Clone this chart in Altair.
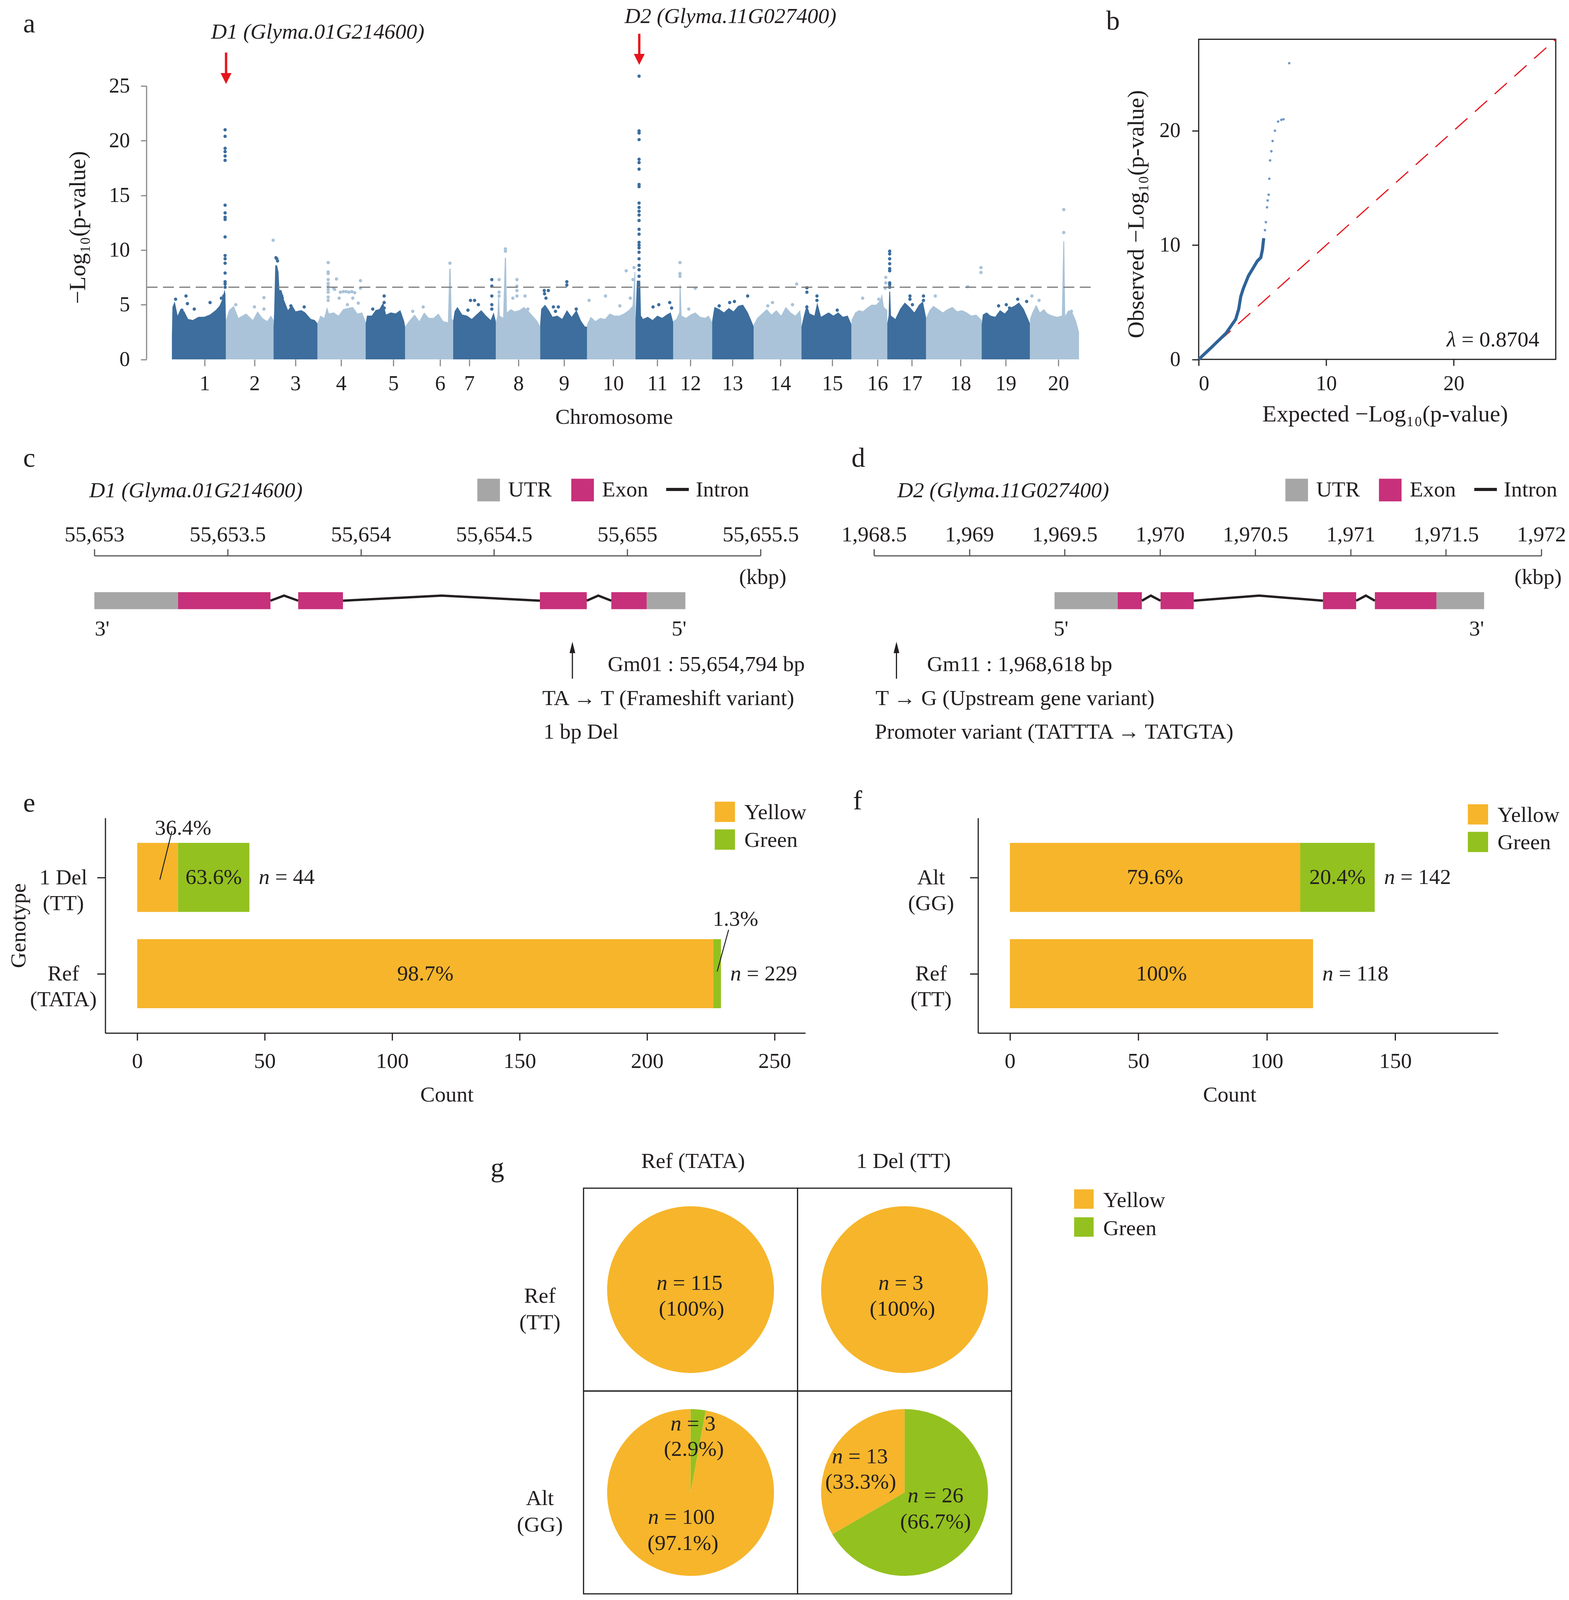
import altair as alt
import pandas as pd

FONT = "Liberation Serif"
INK = "#231f20"
GRAY_AX = "#8a8a8a"
DARK = "#3d6e9d"
LIGHT = "#aac3d8"
YEL = "#f6b52b"
GRN = "#93c11f"
UTRC = "#a6a6a6"
EXONC = "#c7307a"
RED = "#e8141c"
QQDARK = "#2f6399"
QQLIGHT = "#6f9ac8"

# vertical layout factor so the whole figure fits in the visible window height
K = 0.948

# ------------------------------------------------------------------ data: panel a
chrom_labels = [str(i) for i in range(1, 21)]
chrom_ticks = [34.4, 86.8, 129.8, 177.7, 232.6, 281.8, 312.5, 364.1, 412.0, 463.6,
               509.9, 544.7, 588.9, 639.3, 693.8, 741.3, 777.3, 828.5, 876.0, 931.3]
# envelope of the dense SNP band per chromosome: (cumulative Mb, -log10 p)
chrom_env = [
    [(0, 2.1), (0.6, 4.8), (3, 5.3), (6, 4.0), (9, 4.6), (13, 4.4), (17, 3.7), (22, 3.6), (28, 3.9), (34, 3.9), (40, 4.1), (46, 4.5), (50, 4.9), (53, 5.5), (55.3, 6.4), (56.2, 6.0), (56.8, 3.4)],
    [(56.8, 3.6), (60, 4.5), (65, 4.9), (70, 3.8), (78, 4.2), (85, 3.6), (90, 4.4), (95, 3.8), (100, 3.5), (104, 4.0), (106.8, 3.6)],
    [(106.8, 3.0), (107.5, 4.5), (108.6, 8.6), (110.5, 8.6), (112, 8.0), (113, 6.3), (115, 5.9), (118, 5.4), (122, 4.5), (126, 5.0), (130, 4.4), (136, 4.5), (140, 4.3), (146, 3.7), (150, 3.6), (153, 3.3)],
    [(153, 3.3), (156, 4.0), (160, 3.8), (163, 4.8), (165, 4.2), (170, 4.3), (175, 4.0), (180, 4.6), (185, 4.7), (190, 4.8), (195, 4.2), (200, 4.3), (203.6, 3.4)],
    [(203.6, 3.3), (205, 4.0), (210, 4.0), (214, 4.5), (218, 4.6), (222, 5.2), (225, 4.1), (230, 4.3), (235, 4.2), (240, 4.5), (244, 3.5), (245, 3.0)],
    [(245, 3.0), (250, 3.6), (255, 4.1), (260, 3.5), (265, 4.3), (270, 3.8), (275, 3.8), (280, 4.2), (285, 3.5), (290, 3.4), (291.5, 8.3), (292.8, 8.3), (294, 3.7), (295.5, 3.6)],
    [(295.5, 3.5), (297, 4.4), (300, 4.8), (305, 4.1), (310, 4.0), (315, 3.7), (320, 4.1), (325, 4.5), (330, 4.0), (335, 3.6), (338, 4.3), (340.3, 3.5)],
    [(340.3, 3.4), (342, 4.0), (343.3, 6.5), (344.5, 4.0), (348, 3.8), (349.8, 9.3), (351, 9.3), (352, 4.3), (356, 4.6), (360, 4.4), (365, 4.5), (370, 4.8), (375, 4.4), (380, 3.9), (384, 3.5), (386.9, 3.0)],
    [(386.9, 3.2), (388, 4.6), (392, 5.0), (396, 4.5), (400, 3.9), (405, 4.0), (410, 3.7), (415, 4.5), (420, 3.9), (425, 4.5), (430, 3.5), (434, 3.0), (436.2, 3.0)],
    [(436.2, 3.2), (440, 3.9), (445, 3.5), (450, 3.8), (455, 3.7), (460, 4.2), (465, 4.0), (470, 4.0), (475, 4.2), (480, 4.5), (484, 4.9), (486, 8.0), (486.8, 8.0), (487, 3.8)],
    [(487, 3.6), (488.5, 7.2), (492, 7.2), (492.8, 4.0), (495, 3.7), (500, 3.9), (505, 3.6), (510, 4.0), (515, 3.8), (520, 4.1), (524, 4.3), (526.7, 3.4)],
    [(526.7, 3.5), (530, 3.7), (533, 4.3), (533.4, 6.8), (534.4, 6.8), (535.5, 4.0), (540, 3.8), (545, 4.1), (550, 4.3), (555, 3.9), (560, 3.8), (564, 4.0), (567.6, 3.4)],
    [(567.6, 3.5), (570, 4.8), (575, 4.6), (580, 4.3), (585, 4.7), (590, 4.4), (595, 4.9), (600, 5.0), (605, 4.3), (608, 3.7), (611.3, 3.0)],
    [(611.3, 3.2), (615, 3.8), (620, 4.2), (625, 4.6), (630, 4.1), (635, 4.5), (640, 4.0), (645, 4.8), (650, 4.3), (655, 4.0), (660, 4.5), (661.4, 3.6)],
    [(661.4, 3.0), (664, 4.0), (667, 5.0), (670, 4.2), (675, 4.0), (678, 5.2), (682, 3.9), (690, 4.3), (695, 4.0), (700, 4.3), (705, 3.9), (710, 4.0), (714, 3.2)],
    [(714, 3.6), (718, 4.3), (722, 4.5), (726, 4.4), (730, 4.7), (735, 5.0), (740, 5.0), (744, 5.4), (746, 6.0), (748, 4.8), (751.6, 4.5)],
    [(751.6, 3.3), (753, 4.0), (753.6, 6.2), (754.6, 6.2), (755.5, 4.0), (760, 3.7), (765, 4.6), (770, 5.2), (775, 4.8), (780, 4.3), (785, 5.0), (789, 5.3), (792.4, 3.8)],
    [(792.4, 3.8), (796, 4.5), (800, 4.9), (805, 4.6), (810, 4.3), (815, 4.6), (820, 4.8), (825, 4.4), (830, 4.5), (835, 4.3), (840, 4.0), (845, 4.1), (850.7, 3.6)],
    [(850.7, 3.2), (852, 4.1), (856, 4.3), (860, 4.0), (865, 3.9), (870, 4.5), (875, 4.2), (880, 4.7), (885, 4.9), (890, 5.2), (895, 4.6), (898, 4.0), (901.5, 3.3)],
    [(901.5, 3.7), (904, 4.3), (908, 5.0), (912, 4.3), (916, 4.6), (920, 4.2), (925, 4.0), (930, 3.9), (935, 4.0), (936.5, 10.8), (937.5, 10.8), (938.5, 4.0), (942, 4.5), (946, 4.3), (950, 3.5), (953, 2.5)],
]
# individual SNPs standing above the dense band: (cumulative Mb, -log10 p)
chrom_peaks = [
    [(55.9, v) for v in [21.0, 20.4, 19.3, 19.0, 18.6, 18.2, 14.1, 13.4, 13.0, 12.8, 11.2, 9.5, 9.2, 8.8, 7.9, 7.1, 6.9, 6.6]]
    + [(3.9, 5.5), (14.8, 5.8), (16.3, 5.1), (10.5, 4.5), (23.5, 4.6), (40.1, 5.2), (52, 5.6), (54.5, 5.8)],
    [(106.4, 10.9), (96.7, 5.65), (86.7, 4.8), (67.1, 5.0), (96.7, 4.6)],
    [(109.3, 9.3), (110.2, 9.2), (111, 9.0), (113.8, 6.2), (114.5, 6.0), (115.5, 5.8), (116, 5.6), (113.5, 5.5), (117, 5.1), (125, 4.9), (139, 4.8)],
    [(164.2, v) for v in [8.85, 8.0, 7.85, 7.3, 6.95, 6.7, 6.4, 6.15, 5.7, 5.4]]
    + [(172.9, 7.35), (198.1, 7.2), (170, 6.5), (171, 6.4), (177, 6.15), (180, 6.2), (183, 6.2), (186, 6.15), (189, 6.2), (192, 6.1), (175.7, 5.6), (190, 5.6), (195.8, 5.15), (184.4, 5.0), (198.1, 6.5)],
    [(223, 5.8), (223, 5.2), (223, 4.7), (211, 4.6)],
    [(292.1, 8.8), (253, 4.4), (264, 4.8)],
    [(336.1, v) for v in [7.3, 6.7, 5.8, 5.0, 4.6]] + [(313.7, 5.4), (318, 5.4), (322, 5.0), (311, 4.5)],
    [(350.4, 10.1), (350.4, 9.9), (343.8, 7.3), (343.8, 6.15), (343.8, 5.8), (362.5, 7.3), (362.5, 6.7), (362.5, 6.3), (362.5, 5.8), (371, 5.8), (358.2, 5.6), (374, 4.6)],
    [(391.2, 6.3), (391.5, 6.0), (395.5, 6.3), (393, 5.6), (400.8, 4.8), (403, 4.4), (414.9, 7.1), (414.9, 6.8), (424.8, 4.6), (406, 4.8)],
    [(438.3, 5.4), (455.5, 5.8), (477.3, 8.1), (481.6, 5.6), (484.4, 7.3), (485.5, 8.4), (470.6, 4.9)],
    [(490.8, v) for v in [25.9, 20.9, 20.7, 20.1, 18.3, 18.0, 17.4, 16.0, 15.8, 14.3, 13.9, 13.55, 13.2, 12.7, 11.9, 11.45, 10.7, 10.45, 10.2, 9.8, 9.2, 8.6, 8.2, 7.6]]
    + [(505.5, 4.8), (511.5, 5.0), (523, 5.2), (525, 4.7)],
    [(533.8, 8.85), (533.8, 7.85), (533.8, 7.6), (549.8, 6.5), (543, 4.6)],
    [(591, 5.3), (604.9, 5.8), (586, 5.2), (575, 4.9)],
    [(656.4, 6.9), (631, 5.2), (652, 5.0), (626, 4.9)],
    [(667.1, 6.55), (667.1, 6.15), (677.7, 5.8), (677.7, 5.4), (667.1, 4.8), (699, 4.5)],
    [(725.7, 5.6), (742.6, 5.5), (750, 7.5), (750, 7.0), (749.5, 6.5)],
    [(754.1, v) for v in [9.9, 9.65, 9.2, 8.75, 8.3, 8.1, 7.0, 6.85, 6.6]] + [(775.4, 5.8), (775.4, 5.5), (789.6, 5.8), (789.6, 5.4), (778, 5.0)],
    [(802, 5.8), (836.1, 6.65), (850, 8.4), (850, 7.95)],
    [(868.5, 4.9), (876.6, 5.0), (888.6, 5.5), (898, 5.3), (880, 4.7)],
    [(937, 13.7), (937, 11.6), (903.5, 5.8), (911, 5.4), (945, 4.4)],
]
threshold = 6.6
gene_names = ["D1 (Glyma.01G214600)", "D2 (Glyma.11G027400)"]
arrow_pos = [56.9, 491.0]
arrow_top = [28.06, 29.78]
arrow_tip = [25.19, 26.94]

# ------------------------------------------------------------------ data: panel b
qq_line_exp = [0, 1.0, 2.15, 2.9, 3.14, 3.3, 3.5, 3.9, 4.33, 4.6, 4.87, 5.0, 5.1]
qq_line_obs = [0, 1.05, 2.3, 3.5, 4.4, 5.5, 6.2, 7.3, 8.1, 8.6, 8.9, 9.6, 10.6]
qq_dot_exp = [5.2, 5.27, 5.36, 5.41, 5.49, 5.54, 5.6, 5.7, 5.8, 5.98, 6.23, 6.48, 6.65, 7.1]
qq_dot_obs = [11.3, 12.0, 13.3, 13.9, 14.4, 15.8, 17.4, 18.2, 19.1, 20.0, 20.8, 20.95, 21.0, 25.9]
lambda_gc = "0.8704"

# ------------------------------------------------------------------ data: panels c, d (kbp)
c_ticks = [55653, 55653.5, 55654, 55654.5, 55655, 55655.5]
c_utr = [(55653.0, 55653.314), (55655.073, 55655.218)]
c_exon = [(55653.314, 55653.661), (55653.765, 55653.933), (55654.672, 55654.848), (55654.94, 55655.073)]
c_intron = [(55653.661, 55653.712, 55653.765), (55653.933, 55654.303, 55654.672), (55654.848, 55654.891, 55654.94)]
c_variant = 55654.794
d_ticks = [1968.5, 1969, 1969.5, 1970, 1970.5, 1971, 1971.5, 1972]
d_utr = [(1969.447, 1969.778), (1971.45, 1971.70)]
d_exon = [(1969.778, 1969.905), (1970.003, 1970.177), (1970.855, 1971.029), (1971.127, 1971.45)]
d_intron = [(1969.905, 1969.952, 1970.003), (1970.177, 1970.52, 1970.855), (1971.029, 1971.08, 1971.127)]
d_variant = 1968.618

# ------------------------------------------------------------------ data: panels e, f, g
phenos = ["Yellow", "Green"]
e_genos = [["1 Del", "(TT)"], ["Ref", "(TATA)"]]
e_yellow = [16, 226]
e_green = [28, 3]
e_pct_y = ["36.4%", "98.7%"]
e_pct_g = ["63.6%", "1.3%"]
f_genos = [["Alt", "(GG)"], ["Ref", "(TT)"]]
f_yellow = [113, 118]
f_green = [29, 0]
f_pct_y = ["79.6%", "100%"]
f_pct_g = ["20.4%", ""]
g_cols = ["Ref (TATA)", "1 Del (TT)"]
g_rows = ["Ref\n(TT)", "Alt\n(GG)"]
g_yellow = [[115, 3], [100, 13]]
g_green = [[0, 0], [3, 26]]
g_pct_y = [["100%", "100%"], ["97.1%", "33.3%"]]
g_pct_g = [["", ""], ["2.9%", "66.7%"]]

PHENO_COL = {"Yellow": YEL, "Green": GRN}

# ------------------------------------------------------------------ helpers
ONE = pd.DataFrame({"k": [0]})
EM = {" ": 0.25, "=": 0.564, "(": 0.333, ")": 0.333, "%": 0.833, ".": 0.25, "n": 0.5}


def tw(s, size):
    return sum(EM.get(ch, 0.5) for ch in s) * size


def label(text, x, y, size=56, align="center", baseline="middle", italic=False, color=INK, lineHeight=None):
    kw = dict(text=text, align=align, baseline=baseline, fontSize=size,
              fontStyle="italic" if italic else "normal", color=color, font=FONT)
    if lineHeight:
        kw["lineBreak"] = "\n"
        kw["lineHeight"] = lineHeight
    return alt.Chart(ONE).mark_text(**kw).encode(x=alt.value(x), y=alt.value(y * K))


def nlabel_center(rest, cx, y, size=56):
    w = tw("n " + rest, size)
    left = cx - w / 2
    return [label("n", left, y, size, align="left", italic=True),
            label(rest, left + 0.75 * size, y, size, align="left")]


def square(x, y, color, side):
    return alt.Chart(ONE).mark_square(size=side * side, color=color, opacity=1, filled=True).encode(
        x=alt.value(x), y=alt.value(y * K))


def hline(x1, x2, y, color=INK, width=8):
    return alt.Chart(ONE).mark_rule(color=color, strokeWidth=width).encode(
        x=alt.value(x1), x2=alt.value(x2), y=alt.value(y * K))


def spacer(w, h):
    return alt.Chart(ONE).mark_point(opacity=0).encode(
        x=alt.X("k:Q", axis=None), y=alt.Y("k:Q", axis=None)).properties(width=w, height=h)


def row_frame(w, h, top, bottom):
    # invisible frame that fixes the vertical extent of a row of panels
    return alt.Chart(ONE).mark_rect(opacity=0).encode(
        x=alt.value(0), x2=alt.value(w), y=alt.value(-top), y2=alt.value(h + bottom)).properties(width=w, height=h)


# ------------------------------------------------------------------ panel a
A_W, A_H = 2434, 866.6 * K
sx_a = alt.Scale(domain=[-26.6, 970.2], nice=False, zero=False)
sy_a = alt.Scale(domain=[0, 29.28], nice=False, zero=False)

env_rows, pk_rows = [], []
for i, env in enumerate(chrom_env):
    col = DARK if i % 2 == 0 else LIGHT
    for p, t in env:
        env_rows.append({"chr": i + 1, "col": col, "pos": p, "top": t})
    for p, v in chrom_peaks[i]:
        pk_rows.append({"chr": i + 1, "col": col, "pos": p, "val": v})
env_df = pd.DataFrame(env_rows)
pk_df = pd.DataFrame(pk_rows)

ax_a_x = alt.Axis(values=chrom_ticks, labelExpr=f"{chrom_labels}[indexof({chrom_ticks}, datum.value)]",
                  domain=False, grid=False, tickSize=18 * K, tickWidth=3, tickColor=GRAY_AX, labelFontSize=54,
                  labelPadding=20 * K, labelOverlap=False, labelFlush=False, title="Chromosome", titleFontSize=56,
                  titleX=1199, titleY=156 * K, titleBaseline="middle")
ax_a_y = alt.Axis(values=[0, 5, 10, 15, 20, 25], domain=False, grid=False, tickSize=15, tickWidth=3,
                  tickColor=GRAY_AX, labelFontSize=54, labelPadding=28, title="−Log₁₀(p-value)",
                  titleFontSize=60, titleX=-176, titleY=509 * K, titleAngle=270, titleBaseline="middle")


def XA(f):
    return alt.X(f, scale=sx_a, axis=ax_a_x)


def YA(f, **kw):
    return alt.Y(f, scale=sy_a, axis=ax_a_y, **kw)


a_area = alt.Chart(env_df).mark_area(interpolate="linear").encode(
    x=XA("pos:Q"), y=YA("top:Q", stack=None), color=alt.Color("col:N", scale=None), detail="chr:N")
a_pts = alt.Chart(pk_df).mark_circle(size=72, opacity=1).encode(
    x=XA("pos:Q"), y=YA("val:Q"), color=alt.Color("col:N", scale=None))
a_thr = alt.Chart(pd.DataFrame({"t": [threshold]})).mark_rule(
    color="#7a7a7a", strokeWidth=3, strokeDash=[28, 14]).encode(
    y=YA("t:Q"), x=alt.value(0), x2=alt.value(A_W))
a_yline = alt.Chart(pd.DataFrame({"y0": [0], "y1": [25]})).mark_rule(color=GRAY_AX, strokeWidth=3).encode(
    x=alt.value(0), y=YA("y0:Q"), y2="y1:Q")
arr_df = pd.DataFrame({"pos": arrow_pos, "top": arrow_top, "tip": arrow_tip,
                       "shaft_end": [t + 0.5 for t in arrow_tip]})
a_shaft = alt.Chart(arr_df).mark_rule(color=RED, strokeWidth=6).encode(
    x=XA("pos:Q"), y=YA("top:Q"), y2="shaft_end:Q")
a_head = alt.Chart(arr_df).mark_point(shape="M-1,-2L1,-2L0,0Z", size=780, filled=True, color=RED, opacity=1).encode(
    x=XA("pos:Q"), y=YA("tip:Q"))
panel_a = alt.layer(
    a_area, a_pts, a_thr, a_yline, a_shaft, a_head,
    label(gene_names[0], 439, -19, 56, italic=True),
    label(gene_names[1], 1498, -62, 56, italic=True),
    label("a", -301, -41, 70),
).properties(width=A_W, height=A_H)

# ------------------------------------------------------------------ panel b
B_W, B_H = 916, 866.6 * K
sx_b = alt.Scale(domain=[0, 28], nice=False, zero=False)
sy_b = alt.Scale(domain=[0, 28], nice=False, zero=False)
ax_b_x = alt.Axis(values=[0, 10, 20], domain=False, grid=False, tickSize=17 * K, tickWidth=3, tickColor=INK,
                  labelFontSize=54, labelPadding=21 * K, title="Expected −Log₁₀(p-value)", titleFontSize=60,
                  titleX=478, titleY=148 * K, titleBaseline="middle")
ax_b_y = alt.Axis(values=[0, 10, 20], domain=False, grid=False, tickSize=17, tickWidth=3, tickColor=INK,
                  labelFontSize=54, labelPadding=30, title="Observed −Log₁₀(p-value)", titleFontSize=60,
                  titleX=-160, titleY=473 * K, titleAngle=270, titleBaseline="middle")


def XB(f):
    return alt.X(f, scale=sx_b, axis=ax_b_x)


def YB(f):
    return alt.Y(f, scale=sy_b, axis=ax_b_y)


qq_line = alt.Chart(pd.DataFrame({"e": qq_line_exp, "o": qq_line_obs})).mark_line(
    color=QQDARK, strokeWidth=8).encode(x=XB("e:Q"), y=YB("o:Q"))
qq_dots = alt.Chart(pd.DataFrame({"e": qq_dot_exp, "o": qq_dot_obs})).mark_circle(
    size=40, color=QQLIGHT, opacity=1).encode(x=XB("e:Q"), y=YB("o:Q"))
qq_diag = alt.Chart(pd.DataFrame({"e": [0, 28], "o": [0, 28]})).mark_line(
    color=RED, strokeWidth=3, strokeDash=[42, 26]).encode(x=XB("e:Q"), y=YB("o:Q"))
lam_rest = "= " + lambda_gc
lam_right = 874
panel_b = alt.layer(
    qq_diag, qq_line, qq_dots,
    label(lam_rest, lam_right, 814, 56, align="right"),
    label("λ", lam_right - tw(lam_rest, 56) - 14, 814, 56, align="right", italic=True),
    label("b", -220, -48, 70),
).properties(width=B_W, height=B_H, view=alt.ViewBackground(stroke=INK, strokeWidth=3))

# ------------------------------------------------------------------ panels c, d
C_H = 520 * K


def gene_panel(width, ticks, utr, exons, introns, variant, letter_xy, letter, title, title_x,
               leg_x, kbp_x, primes, texts):
    sx = alt.Scale(domain=[ticks[0], ticks[-1]], nice=False, zero=False)
    sy = alt.Scale(domain=[-17.29, 5.3], nice=False, zero=False)
    ax = alt.Axis(orient="top", values=ticks, format=",", grid=False, tickSize=18 * K, tickWidth=3,
                  tickColor="#555555", domainColor="#555555", domainWidth=3, labelFontSize=56,
                  labelPadding=8, labelFlush=False, labelOverlap=False, labelLimit=1000, title="")

    def X(f):
        return alt.X(f, scale=sx, axis=ax)

    def Y(f):
        return alt.Y(f, scale=sy, axis=None)

    udf = pd.DataFrame({"s": [u[0] for u in utr], "e": [u[1] for u in utr], "lo": -1, "hi": 1})
    edf = pd.DataFrame({"s": [u[0] for u in exons], "e": [u[1] for u in exons], "lo": -1, "hi": 1})
    irows = []
    for k, (s, m, e) in enumerate(introns):
        irows += [{"id": k, "x": s, "y": 0}, {"id": k, "x": m, "y": 0.6}, {"id": k, "x": e, "y": 0}]
    idf = pd.DataFrame(irows)
    utr_l = alt.Chart(udf).mark_rect(color=UTRC).encode(x=X("s:Q"), x2="e:Q", y=Y("lo:Q"), y2="hi:Q")
    exon_l = alt.Chart(edf).mark_rect(color=EXONC).encode(x=X("s:Q"), x2="e:Q", y=Y("lo:Q"), y2="hi:Q")
    intr_l = alt.Chart(idf).mark_line(color=INK, strokeWidth=6).encode(x=X("x:Q"), y=Y("y:Q"), detail="id:N")
    vdf = pd.DataFrame({"v": [variant]})
    shaft = alt.Chart(vdf).mark_rule(color=INK, strokeWidth=3).encode(
        x=X("v:Q"), y=alt.value(333 * K), y2=alt.value(245 * K))
    head = alt.Chart(vdf).mark_point(shape="M-0.5,2L0.5,2L0,0Z", size=850, filled=True, color=INK, opacity=1).encode(
        x=X("v:Q"), y=alt.value(233 * K))
    ux, ex, ix = leg_x
    layers = [utr_l, exon_l, intr_l, shaft, head,
              label(letter, letter_xy[0], letter_xy[1], 70),
              label(title, title_x, -176, 56, align="left", italic=True),
              square(ux, -177.5, UTRC, 58), label("UTR", ux + 50, -178, 56, align="left"),
              square(ex, -177.5, EXONC, 58), label("Exon", ex + 50, -178, 56, align="left"),
              hline(ix, ix + 58, -179), label("Intron", ix + 76, -178, 56, align="left"),
              label("(kbp)", kbp_x, 59, 56, align="left")]
    for t, x in primes:
        layers.append(label(t, x, 198, 56))
    for t, x, y in texts:
        layers.append(label(t, x, y, 56, align="left"))
    return alt.layer(*layers).properties(width=width, height=C_H)


panel_c = gene_panel(1709, c_ticks, c_utr, c_exon, c_intron, c_variant, (-167, -263), "c",
                     gene_names[0], -13, (1011.5, 1252.5, 1467), 1654,
                     [("3'", 20), ("5'", 1500)],
                     [("Gm01 : 55,654,794 bp", 1317, 295), ("TA → T (Frameshift variant)", 1149, 387),
                      ("1 bp Del", 1152, 477)])
panel_d = gene_panel(1712, d_ticks, d_utr, d_exon, d_intron, d_variant, (-40, -263), "d",
                     gene_names[1], 60, (1084.5, 1324.5, 1540), 1643,
                     [("5'", 480), ("3'", 1546)],
                     [("Gm11 : 1,968,618 bp", 136, 295), ("T → G  (Upstream gene variant)", 4, 387),
                      ("Promoter variant (TATTTA → TATGTA)", 2, 477)])

# ------------------------------------------------------------------ panels e, f
E_H = 582 * K


def bar_panel(width, xdom, xticks, genos, yel, grn, pct_y, pct_g, inside, outside, leaders,
              letter, letter_xy, ytitle, lab_pad, leg_x, leg_y):
    sx = alt.Scale(domain=xdom, nice=False, zero=False)
    sy = alt.Scale(domain=[-0.595, 1.597], nice=False, zero=False)
    rows = [1, 0]
    lab_expr = f"datum.value == 1 ? {genos[0]} : {genos[1]}"
    ax_y = alt.Axis(values=[0, 1], labelExpr=lab_expr, grid=False, tickSize=21, tickWidth=3, tickColor=INK,
                    domainColor=INK, domainWidth=3, labelAlign="center", labelBaseline="middle",
                    labelPadding=lab_pad, labelLineHeight=70 * K, labelFontSize=56, labelLimit=1000,
                    title=ytitle if ytitle else "", titleFontSize=56, titleX=-222, titleY=291 * K,
                    titleAngle=270, titleBaseline="middle")
    ax_x = alt.Axis(values=xticks, grid=False, tickSize=20 * K, tickWidth=3, tickColor=INK, domainColor=INK,
                    domainWidth=3, labelFontSize=56, labelPadding=28 * K, labelFlush=False, title="Count",
                    titleFontSize=56, titleX=width / 2 - 22, titleY=167 * K, titleBaseline="middle")

    def X(f):
        return alt.X(f, scale=sx, axis=ax_x)

    def Y(f):
        return alt.Y(f, scale=sy, axis=ax_y)

    brows, tin, nrows = [], [], []
    for r, y, g, py, pg in zip(rows, yel, grn, pct_y, pct_g):
        brows.append({"row": r, "col": PHENO_COL["Yellow"], "x0": 0, "x1": y})
        brows.append({"row": r, "col": PHENO_COL["Green"], "x0": y, "x1": y + g})
        if "y" in inside.get(r, ""):
            tin.append({"row": r, "xc": y / 2, "t": py})
        if "g" in inside.get(r, ""):
            tin.append({"row": r, "xc": y + g / 2, "t": pg})
        nrows.append({"row": r, "tot": y + g, "rest": f"= {y + g}"})
    bdf = pd.DataFrame(brows)
    bars = alt.Chart(bdf).mark_bar(orient="horizontal", size=187 * K).encode(
        x=X("x0:Q"), x2="x1:Q", y=Y("row:Q"), color=alt.Color("col:N", scale=None))
    tin_l = alt.Chart(pd.DataFrame(tin)).mark_text(fontSize=56, baseline="middle", font=FONT, color=INK).encode(
        x=X("xc:Q"), y=Y("row:Q"), text="t:N")
    ndf = pd.DataFrame(nrows)
    n_it = alt.Chart(ndf).mark_text(text="n", fontSize=56, fontStyle="italic", align="left", baseline="middle",
                                    dx=24, font=FONT, color=INK).encode(x=X("tot:Q"), y=Y("row:Q"))
    n_rest = alt.Chart(ndf).mark_text(fontSize=56, align="left", baseline="middle", dx=66, font=FONT,
                                      color=INK).encode(x=X("tot:Q"), y=Y("row:Q"), text="rest:N")
    layers = [bars, tin_l, n_it, n_rest]
    if outside:
        odf = pd.DataFrame(outside, columns=["x", "y", "t"])
        layers.append(alt.Chart(odf).mark_text(fontSize=56, baseline="middle", font=FONT, color=INK).encode(
            x=X("x:Q"), y=Y("y:Q"), text="t:N"))
    if leaders:
        ldf = pd.DataFrame(leaders, columns=["x", "y", "x2", "y2"])
        layers.append(alt.Chart(ldf).mark_rule(color=INK, strokeWidth=2.5).encode(
            x=X("x:Q"), y=Y("y:Q"), x2="x2:Q", y2="y2:Q"))
    layers += [square(leg_x, leg_y[0], YEL, 52), label("Yellow", leg_x + 50, leg_y[0] + 2, 56, align="left"),
               square(leg_x, leg_y[1], GRN, 52), label("Green", leg_x + 50, leg_y[1] + 2, 56, align="left"),
               label(letter, letter_xy[0], letter_xy[1], 70)]
    return alt.layer(*layers).properties(width=width, height=E_H)


panel_e = bar_panel(1796, [-12.54, 262.1], [0, 50, 100, 150, 200, 250], e_genos, e_yellow, e_green,
                    e_pct_y, e_pct_g, {1: "g", 0: "y"},
                    [(18, 1.512, e_pct_y[0]), (234.7, 0.565, e_pct_g[1])],
                    [(13.6, 1.478, 8.9, 0.977), (232, 0.456, 227.5, 0.023)],
                    "e", (-195, -39), "Genotype", 87, 1589.5, (-16.5, 58.5))
panel_f = bar_panel(1334, [-12.4, 190], [0, 50, 100, 150], f_genos, f_yellow, f_green,
                    f_pct_y, f_pct_g, {1: "yg", 0: "y"}, [], [],
                    "f", (-309, -45), None, 100, 1282.5, (-9.5, 65))

# ------------------------------------------------------------------ panel g (one chart, 2 x 2 cells)
CELL = 549
TAU = 6.283185307179586
sx_g = alt.Scale(domain=[0, 2], nice=False, zero=False)
sy_g = alt.Scale(domain=[0, 2], nice=False, zero=False, reverse=True)
pie_rows, cell_rows = [], []
for i in range(2):
    for j in range(2):
        tot = g_green[i][j] + g_yellow[i][j]
        fg = g_green[i][j] / tot
        cell_rows.append({"x0": j, "x1": j + 1, "y0": i, "y1": i + 1})
        pie_rows.append({"cx": j + 0.5, "cy": i + 0.5, "col": GRN, "t0": 0.0, "t1": fg})
        pie_rows.append({"cx": j + 0.5, "cy": i + 0.5, "col": YEL, "t0": fg, "t1": 1.0})
pies = alt.Chart(pd.DataFrame(pie_rows)).mark_arc(outerRadius=214).encode(
    x=alt.X("cx:Q", scale=sx_g, axis=None), y=alt.Y("cy:Q", scale=sy_g, axis=None),
    theta=alt.Theta("t0:Q", scale=alt.Scale(domain=[0, 1], range=[0, TAU]), stack=None), theta2="t1:Q",
    color=alt.Color("col:N", scale=None))
cells = alt.Chart(pd.DataFrame(cell_rows)).mark_rect(filled=False, stroke=INK, strokeWidth=3).encode(
    x=alt.X("x0:Q", scale=sx_g, axis=None), x2="x1:Q", y=alt.Y("y0:Q", scale=sy_g, axis=None), y2="y1:Q")
g_layers = [pies, cells]
g_layers += nlabel_center(f"= {g_yellow[0][0]}", 273, 257) + [label(f"({g_pct_y[0][0]})", 277, 327)]
g_layers += nlabel_center(f"= {g_yellow[0][1]}", CELL + 265, 257) + [label(f"({g_pct_y[0][1]})", CELL + 269, 327)]
g_layers += nlabel_center(f"= {g_green[1][0]}", 281, CELL + 89) + [label(f"({g_pct_g[1][0]})", 283, CELL + 157)]
g_layers += nlabel_center(f"= {g_yellow[1][0]}", 251, CELL + 342) + [label(f"({g_pct_y[1][0]})", 255, CELL + 412)]
g_layers += nlabel_center(f"= {g_yellow[1][1]}", CELL + 160, CELL + 178) + [label(f"({g_pct_y[1][1]})", CELL + 162, CELL + 246)]
g_layers += nlabel_center(f"= {g_green[1][1]}", CELL + 354, CELL + 283) + [label(f"({g_pct_g[1][1]})", CELL + 354, CELL + 354)]
g_layers += [label(g_cols[0], 281, -73), label(g_cols[1], CELL + 272, -73),
             label(g_rows[0], -112, 292, lineHeight=68), label(g_rows[1], -112, CELL + 291, lineHeight=68),
             label("g", -221, -54, 70),
             square(CELL + 734.5, 29.5, YEL, 50), label("Yellow", CELL + 784, 33, 56, align="left"),
             square(CELL + 734.5, 105, GRN, 50), label("Green", CELL + 784, 109, 56, align="left")]
panel_g = alt.layer(*g_layers).properties(width=2 * CELL, height=2 * CELL * K)

# ------------------------------------------------------------------ layout
# rows (reference y-extents [0,1170] [1170,2110] [2110,3040] [3040,4299], scaled by K)
row1 = alt.hconcat(row_frame(368, A_H, 92 * K, (1170 - 958.6) * K), panel_a, spacer(265, A_H), panel_b,
                   spacing=0, bounds="flush")
row2 = alt.hconcat(row_frame(234, C_H, (1489 - 1170) * K, (2110 - 1489 - 520) * K), panel_c, spacer(291, C_H),
                   panel_d, spacing=0, bounds="flush")
row3 = alt.hconcat(row_frame(262, E_H, (2198 - 2110) * K, (3040 - 2780) * K), panel_e, spacer(443, E_H), panel_f,
                   spacing=0, bounds="flush")
row4 = alt.hconcat(row_frame(1489, 2 * CELL * K, (3199 - 3040) * K, 2), panel_g, spacing=0, bounds="flush")

chart = alt.vconcat(row1, row2, row3, row4, spacing=0).properties(
    padding=0).configure(font=FONT).configure_view(stroke=None).configure_axis(
    labelColor=INK, titleColor=INK, titleFontWeight="normal", labelFont=FONT, titleFont=FONT)

chart.save("out.html", embed_options={"renderer": "svg", "actions": False})
